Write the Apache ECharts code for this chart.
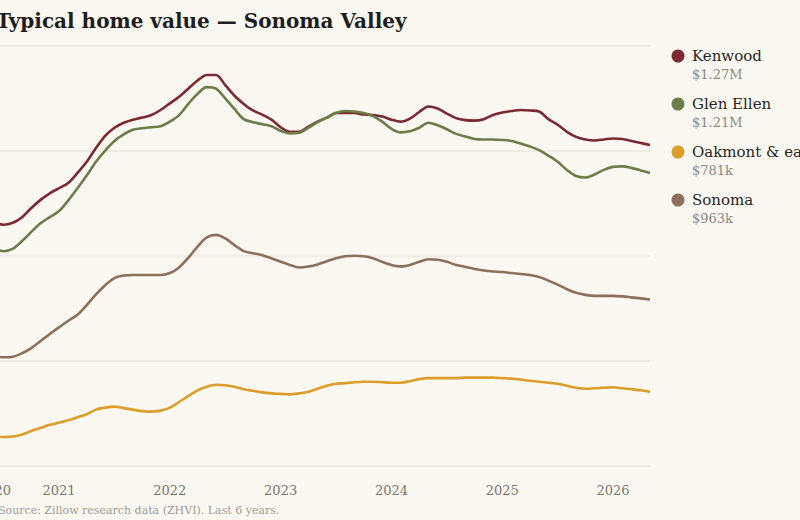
<!DOCTYPE html>
<html><head><meta charset="utf-8">
<script src="https://cdn.jsdelivr.net/npm/echarts@6/dist/echarts.min.js"></script>
<style>html,body{margin:0;padding:0;background:#fbf8f1;}#c{width:800px;height:520px;}</style>
</head><body><div id="c"></div>
<script>
const months = [
'2020-06','2020-07','2020-08','2020-09','2020-10','2020-11','2020-12',
'2021-01','2021-02','2021-03','2021-04','2021-05','2021-06','2021-07','2021-08','2021-09','2021-10','2021-11','2021-12',
'2022-01','2022-02','2022-03','2022-04','2022-05','2022-06','2022-07','2022-08','2022-09','2022-10','2022-11','2022-12',
'2023-01','2023-02','2023-03','2023-04','2023-05','2023-06','2023-07','2023-08','2023-09','2023-10','2023-11','2023-12',
'2024-01','2024-02','2024-03','2024-04','2024-05','2024-06','2024-07','2024-08','2024-09','2024-10','2024-11','2024-12',
'2025-01','2025-02','2025-03','2025-04','2025-05','2025-06','2025-07','2025-08','2025-09','2025-10','2025-11','2025-12',
'2026-01','2026-02','2026-03','2026-04','2026-05'];
// values in $ thousands
const kenwood = [1116,1110,1114,1125,1143,1159,1172,1182,1192,1212,1234,1261,1285,1301,1311,1317,1321,1326,1336,1349,1362,1378,1394,1405,1405,1385,1364,1348,1335,1327,1317,1302,1293,1293,1303,1313,1321,1330,1330,1330,1327,1326,1323,1317,1313,1319,1332,1343,1339,1329,1320,1316,1315,1318,1326,1331,1334,1336,1335,1333,1318,1307,1293,1283,1278,1276,1278,1280,1279,1275,1271,1267];
const glenEllen = [1062,1058,1063,1078,1096,1113,1125,1137,1158,1182,1207,1234,1256,1275,1288,1297,1300,1302,1304,1313,1326,1348,1368,1381,1378,1359,1338,1318,1312,1308,1304,1295,1290,1291,1301,1312,1321,1330,1334,1333,1330,1324,1313,1299,1292,1294,1301,1311,1306,1298,1289,1284,1279,1278,1278,1277,1275,1270,1264,1257,1246,1234,1218,1206,1203,1209,1218,1224,1225,1222,1217,1212];
const oakmont = [694,692,693,697,704,710,716,720,725,731,737,746,750,752,749,746,743,742,744,750,761,773,784,791,795,794,791,786,783,780,778,777,776,778,781,787,793,797,798,800,801,801,800,799,799,802,806,808,808,808,808,809,809,809,809,808,807,805,803,801,799,797,793,789,787,788,789,790,788,786,784,781];
const sonoma = [852,849,850,857,867,881,895,908,921,933,952,973,991,1005,1010,1011,1011,1011,1011,1015,1026,1045,1067,1085,1090,1083,1070,1058,1054,1050,1044,1037,1031,1026,1028,1032,1038,1044,1048,1049,1048,1044,1037,1031,1028,1031,1037,1042,1041,1037,1031,1027,1023,1020,1018,1017,1015,1013,1011,1007,1000,992,983,976,972,970,970,970,969,967,965,963];
const seriesNames = ['Kenwood','Glen Ellen','Oakmont & east Santa Rosa','Sonoma'];
const latestLabels = ['$1.27M','$1.21M','$781k','$963k'];
const colors = ['#7b2a2f','#6c7d48','#dd9d2a','#8d705c'];
const yMin = 635, yMax = 1462;

const serif = '"DejaVu Serif", serif';
const allData = [kenwood, glenEllen, oakmont, sonoma];
const chart = echarts.init(document.getElementById('c'), null, {renderer:'svg'});
chart.setOption({
  backgroundColor:'#fbf8f1',
  animation:false,
  grid:{left:-5.6, right:150, top:46, bottom:54, containLabel:false, outerBoundsMode:'none'},
  xAxis:{type:'category', data:months, boundaryGap:false,
    axisLine:{show:false}, axisTick:{show:false},
    axisLabel:{interval:(i,v)=> i===0 || v.slice(5)==='01',
      formatter:v=>v.slice(0,4), margin:18, fontFamily:serif, fontSize:13, color:'#7a7670'},
    splitLine:{show:false}},
  yAxis:{type:'value', min:yMin, max:yMax, interval:(yMax-yMin)/4,
    axisLabel:{show:false}, axisLine:{show:false}, axisTick:{show:false},
    splitLine:{lineStyle:{color:'#ece7dd', width:1.5}}},
  legend:{orient:'vertical', left:671.5, top:48, padding:0, icon:'circle', itemWidth:13, itemHeight:13,
    itemGap:32, data:seriesNames,
    textStyle:{fontFamily:serif, fontSize:15, color:'#262626', lineHeight:16, padding:[0,0,0,2.5]}},
  graphic: [
    {type:'text', x:-4, y:21, style:{text:'Typical home value — Sonoma Valley',
      font:'bold 20px "DejaVu Serif"', fill:'#1e1e1e', verticalAlign:'middle'}},
    {type:'text', x:-2, y:510, style:{text:'Source: Zillow research data (ZHVI). Last 6 years.',
      font:'11px "DejaVu Serif"', fill:'#a09b94', verticalAlign:'middle'}}
  ].concat(latestLabels.map((t,i)=>({type:'text', x:692, y:74+48*i,
    style:{text:t, font:'13px "DejaVu Serif"', fill:'#8c8780', verticalAlign:'middle'}}))),
  series: seriesNames.map((n,i)=>({name:n, type:'line', data:allData[i], showSymbol:false,
    smooth:0.3, lineStyle:{color:colors[i], width:2.6}, itemStyle:{color:colors[i]}}))
});
</script></body></html>
